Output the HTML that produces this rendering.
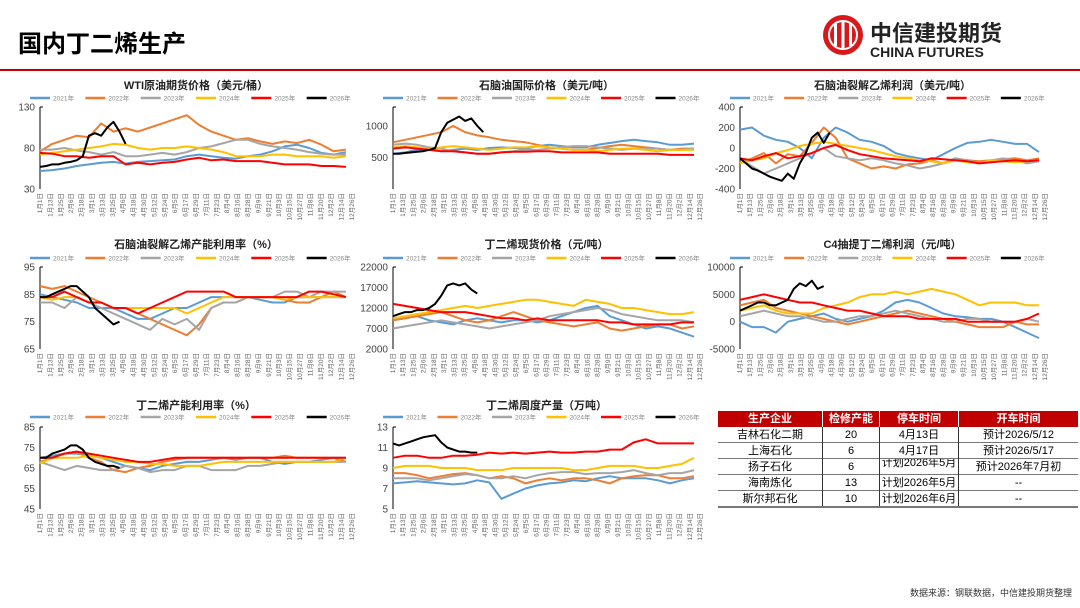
<!DOCTYPE html>
<html><head><meta charset="utf-8">
<style>
body{margin:0;width:1080px;height:608px;background:#fff;overflow:hidden;font-family:"Liberation Sans","Noto Sans CJK SC",sans-serif;}
#root{position:relative;width:1080px;height:608px;}
table{border-collapse:collapse;table-layout:fixed;}
td{padding:0;line-height:14px;height:15px;white-space:nowrap;overflow:hidden;}
</style></head>
<body><div id="root">
<div style="position:absolute;left:18px;top:24px;font-size:24px;font-weight:bold;color:#000;font-family:'Liberation Sans','Noto Sans CJK SC',sans-serif;">国内丁二烯生产</div>
<div style="position:absolute;left:0;top:69px;width:1080px;height:2px;background:#c00000;"></div>
<svg style="position:absolute;left:820px;top:12px" width="260" height="48">
<circle cx="23" cy="23" r="20" fill="#d7191c"/>
<circle cx="23" cy="23" r="14" fill="none" stroke="#fff" stroke-width="2"/>
<rect x="14" y="12" width="3" height="22" fill="#fff"/><rect x="21.5" y="9" width="3" height="28" fill="#fff"/><rect x="29" y="12" width="3" height="22" fill="#fff"/>
<text x="50" y="29" font-size="22" font-weight="bold" fill="#222" font-family="Noto Sans CJK SC,sans-serif">中信建投期货</text>
<text x="50" y="45" font-size="14" font-weight="bold" fill="#222" font-family="Liberation Sans,sans-serif">CHINA FUTURES</text>
</svg>
<svg id="charts" style="position:absolute;left:0;top:0" width="1080" height="608"></svg>
<table style="position:absolute;left:718px;top:411px;width:360px;font-size:11px;font-family:'Liberation Sans','Noto Sans CJK SC',sans-serif;text-align:center;">
<tr style="background:#c00000;color:#fff;font-weight:bold;"><td style="width:104px;border-right:1px solid #fff;height:16px">生产企业</td><td style="width:56px;border-right:1px solid #fff">检修产能</td><td style="width:78px;border-right:1px solid #fff">停车时间</td><td>开车时间</td></tr>
<tr style="border-bottom:1px solid #777"><td style="border-right:1px solid #333">吉林石化二期</td><td style="border-right:1px solid #333">20</td><td style="border-right:1px solid #333">4月13日</td><td>预计2026/5/12</td></tr>
<tr style="border-bottom:1px solid #777"><td style="border-right:1px solid #333">上海石化</td><td style="border-right:1px solid #333">6</td><td style="border-right:1px solid #333">4月17日</td><td>预计2026/5/17</td></tr>
<tr style="border-bottom:1px solid #777"><td style="border-right:1px solid #333">扬子石化</td><td style="border-right:1px solid #333">6</td><td style="border-right:1px solid #333;font-size:11px;line-height:9px;vertical-align:top">计划2026年5月</td><td>预计2026年7月初</td></tr>
<tr style="border-bottom:1px solid #777"><td style="border-right:1px solid #333">海南炼化</td><td style="border-right:1px solid #333">13</td><td style="border-right:1px solid #333">计划2026年5月</td><td>--</td></tr>
<tr style="border-bottom:2px solid #777"><td style="border-right:1px solid #333">斯尔邦石化</td><td style="border-right:1px solid #333">10</td><td style="border-right:1px solid #333">计划2026年6月</td><td>--</td></tr>
</table>
<div style="position:absolute;right:8px;top:586px;font-size:9px;color:#333;">数据来源：钢联数据，中信建投期货整理</div>
</div>
<script>
const years=["2021年","2022年","2023年","2024年","2025年","2026年"];
const colors=["#5b9bd5","#ed7d31","#a5a5a5","#ffc000","#ff0000","#000000"];
const xTicks=["1月1日","1月13日","1月25日","2月6日","2月18日","3月1日","3月13日","3月25日","4月6日","4月18日","4月30日","5月12日","5月24日","6月5日","6月17日","6月29日","7月11日","7月23日","8月4日","8月16日","8月28日","9月9日","9月21日","10月3日","10月15日","10月27日","11月8日","11月20日","12月2日","12月14日","12月26日"];

const wti2021=[52,53,55,58,60,62,63,61,63,64,65,66,70,72,70,68,67,70,72,76,82,84,80,74,72,75];
const wti2022=[76,85,90,95,93,110,100,104,100,105,110,115,120,108,100,95,90,92,88,85,88,86,90,84,76,78];
const wti2023=[78,78,80,77,75,72,75,70,70,72,74,72,75,80,82,86,90,90,85,82,80,78,75,73,72,72];
const wti2024=[72,74,76,78,80,82,85,84,80,78,80,80,82,80,78,75,70,70,70,72,72,70,70,70,68,70];
const wti2025=[74,73,70,70,68,70,70,60,62,60,62,63,66,68,65,66,64,64,64,62,60,60,60,58,58,57];
const wti2026=[57,58,60,60,62,63,65,70,95,98,95,105,112,100,85];

const nap2021=[560,580,620,640,600,620,640,620,650,660,650,640,680,700,680,660,660,700,730,760,780,760,740,700,700,720];
const nap2022=[740,780,820,860,900,1000,900,850,820,780,760,740,700,660,640,620,620,650,680,700,680,660,640,620,640,640];
const nap2023=[700,720,700,660,640,600,580,560,560,580,600,620,620,640,660,680,680,660,640,620,640,640,640,620,620,640];
const nap2024=[660,680,660,640,660,680,660,640,620,640,660,660,680,660,640,620,620,600,620,640,640,620,600,620,620,620];
const nap2025=[640,660,640,620,600,600,580,560,560,580,590,590,600,600,580,580,580,580,560,560,560,560,560,540,540,540];
const nap2026=[560,560,570,580,590,600,620,650,900,1050,1100,1150,1080,1120,1000,900];

const spr2021=[180,200,120,80,60,0,-100,100,200,150,80,60,20,-50,-80,-100,-120,-60,0,50,60,80,60,40,40,-40];
const spr2022=[-150,-100,-50,-150,-60,-80,50,200,100,-100,-150,-200,-180,-200,-160,-150,-120,-150,-100,-120,-130,-120,-110,-100,-120,-100];
const spr2023=[-100,-180,-250,-200,-150,-100,-50,0,-80,-100,-120,-100,-120,-150,-170,-200,-180,-150,-100,-120,-150,-120,-100,-120,-150,-130];
const spr2024=[-150,-120,-100,-50,-20,20,40,60,40,20,0,-20,-50,-80,-100,-120,-130,-150,-120,-140,-150,-120,-130,-140,-130,-120];
const spr2025=[-100,-120,-80,-50,-100,-80,-50,0,30,-20,-60,-80,-100,-110,-120,-130,-100,-110,-120,-130,-150,-140,-130,-120,-130,-120];
const spr2026=[-100,-150,-200,-220,-250,-280,-300,-320,-250,-300,-150,-50,100,150,50,150];

const eth2021=[85,84,83,82,80,80,80,78,76,76,78,80,80,82,84,84,84,84,83,82,82,84,84,84,84,84];
const eth2022=[88,87,88,86,84,82,80,80,78,76,74,72,70,74,80,82,82,84,84,84,83,82,82,84,86,84];
const eth2023=[82,82,80,84,82,80,78,76,74,72,76,74,76,72,80,82,82,84,84,84,86,86,84,86,86,86];
const eth2024=[84,83,84,84,82,82,80,80,80,80,80,80,78,80,82,84,84,84,84,84,83,84,84,84,84,84];
const eth2025=[84,84,86,84,82,82,80,80,78,80,82,84,86,86,86,86,84,84,84,84,84,84,86,86,85,84];
const eth2026=[84,84,85,86,87,88,88,86,84,80,78,76,74,75];

const bd2021=[9000,9500,10000,9000,8500,8000,9000,9500,9000,8500,9000,9000,8500,9000,10000,11000,12000,12500,10000,9000,8000,7000,7500,7000,6000,5000];
const bd2022=[9000,9500,10000,10500,11000,10000,9000,8500,9000,10000,11000,10000,9000,8500,8000,7500,8000,8500,7000,6500,7000,7500,8000,8000,7000,7500];
const bd2023=[7000,7500,8000,8500,9000,8500,8000,7500,7000,7500,8000,8500,9000,10000,10500,11000,11500,12000,11500,10500,10000,9500,9000,9000,9000,8500];
const bd2024=[9500,10000,10500,11000,11500,12000,12500,12000,12500,13000,13500,14000,14000,13500,13000,12500,14000,13500,13000,12000,12000,11500,11000,10500,10500,11000];
const bd2025=[13000,12500,12000,11500,11000,11000,11000,10500,10000,9500,9500,9000,9500,9000,9000,9000,9000,9000,8500,8500,8000,8000,8000,8000,8500,8500];
const bd2026=[10000,10500,11000,11000,11500,11500,12000,13000,15000,17500,18000,17500,18000,16500,15500];

const c42021=[0,-1000,-1000,-2000,0,500,1000,1500,500,0,500,1000,2000,3500,4000,3500,2500,1500,1000,800,500,500,0,-1000,-2000,-3000];
const c42022=[3000,3500,4000,2500,2000,1500,1000,500,0,-500,0,500,1000,1500,2000,1500,1000,500,0,-500,-1000,-1000,-1000,0,-500,-500];
const c42023=[1000,1500,2000,1500,1000,1000,500,0,0,500,1000,1000,1500,2000,1500,1000,500,0,0,500,500,0,0,0,500,0];
const c42024=[2000,2500,3000,2000,1500,1500,1500,2500,3000,3500,4500,5000,5000,5500,5000,5500,6000,5500,5000,4000,3000,3500,3500,3500,3000,3000];
const c42025=[4000,4500,5000,4500,4000,3500,3500,3000,2500,2000,2000,1500,1000,1000,1000,500,500,500,500,0,0,0,0,0,500,1500];
const c42026=[2000,2500,3000,3500,3500,3000,3000,3500,4000,6000,7000,6500,7500,6000,6500];

const bdu2021=[70,71,72,72,71,70,68,66,65,64,66,67,68,68,69,70,69,70,70,68,67,68,68,69,70,70];
const bdu2022=[68,70,72,73,70,68,64,63,65,66,68,69,70,70,70,70,70,70,70,70,71,70,70,70,70,68];
const bdu2023=[68,66,64,66,65,64,64,66,65,63,64,64,66,66,64,64,64,66,66,67,68,68,68,68,68,68];
const bdu2024=[67,70,70,70,71,70,69,68,68,67,67,66,66,66,67,68,68,68,68,68,68,68,68,68,68,70];
const bdu2025=[70,70,72,73,72,71,70,69,68,68,69,70,70,70,70,70,70,70,70,70,70,70,70,70,70,70];
const bdu2026=[70,70,72,73,74,76,76,74,70,68,67,66,66,65];

const prd2021=[7.5,7.6,7.7,7.6,7.5,7.4,7.5,7.8,7.6,6.0,6.5,7.0,7.3,7.5,7.6,7.8,7.7,8.0,8.2,8.0,8.0,8.0,7.8,7.5,7.8,8.0];
const prd2022=[8.5,8.5,8.3,8.0,8.2,8.4,8.5,8.3,8.0,8.2,8.0,7.5,7.8,8.0,7.8,8.0,8.0,7.8,7.5,8.0,8.2,8.3,8.3,8.0,8.0,8.2];
const prd2023=[8.0,8.0,8.0,7.8,8.0,8.2,8.4,8.3,8.0,8.0,8.2,8.0,8.3,8.5,8.6,8.6,8.4,8.5,8.5,8.6,8.8,8.5,8.3,8.5,8.5,8.8];
const prd2024=[9.0,9.2,9.2,9.2,9.0,9.0,9.0,8.8,8.8,8.8,9.0,9.0,9.0,9.0,9.0,8.8,8.8,9.0,9.2,9.2,9.2,9.0,9.0,9.2,9.4,10.0];
const prd2025=[10.0,10.2,10.2,10.0,10.0,10.2,10.2,10.3,10.5,10.4,10.5,10.4,10.5,10.6,10.5,10.5,10.6,10.6,10.8,10.8,11.5,11.8,11.4,11.4,11.4,11.4];
const prd2026=[11.4,11.2,11.4,11.6,11.8,12.0,12.1,12.2,11.5,11.0,10.8,10.6,10.6,10.5,10.5];

const wtiTicks=[30,80,130], napTicks=[500,1000], sprTicks=[-400,-200,0,200,400], ethTicks=[65,75,85,95], bdTicks=[2000,7000,12000,17000,22000], c4Ticks=[-5000,0,5000,10000], bduTicks=[45,55,65,75,85], prdTicks=[5,7,9,11,13];

const NS="http://www.w3.org/2000/svg";
const svg=document.getElementById('charts');
function mk(tag,attrs,parent){const e=document.createElementNS(NS,tag);for(const k in attrs)e.setAttribute(k,attrs[k]);(parent||svg).appendChild(e);return e;}

function chart(cfg){
  const g=mk('g',{});
  
  
  const {x0,x1,y0,y1,min,max}=cfg;
  const xs=w=>x0+(x1-x0)*w/51;
  const ys=v=>y1-(y1-y0)*(v-min)/(max-min);
  const t=mk('text',{x:(x0+x1)/2,y:cfg.ty,'text-anchor':'middle','font-size':11,'font-weight':'bold',fill:'#222'},g);
  t.textContent=cfg.title;
  
  
  const lw=(x1-x0+20)/6;
  years.forEach((y,i)=>{
    const lx=x0-10+i*lw;
    const le=mk('g',{},g);
    
    
    mk('line',{x1:lx,x2:lx+20,y1:cfg.ly,y2:cfg.ly,stroke:colors[i],'stroke-width':2.5},le);
    const tt=mk('text',{x:lx+23,y:cfg.ly+2.5,'font-size':6.5,fill:'#888'},le);tt.textContent=y;
  });
  cfg.ticks.forEach(v=>{
    const tt=mk('text',{x:x0-5,y:ys(v)+3.5,'text-anchor':'end','font-size':10,fill:'#444'},g);
    tt.textContent=v;
    
    
  });
  mk('line',{x1:x0,x2:x0,y1:y0,y2:y1,stroke:'#000','stroke-width':1},g);
  mk('line',{x1:x0,x2:x0+3,y1:y0,y2:y0,stroke:'#000','stroke-width':1},g);
  xTicks.forEach((lab,i)=>{
    const px=x0+(x1-x0)*i/30;
    const tt=mk('text',{x:0,y:0,'font-size':6.5,fill:'#666','text-anchor':'end',transform:`translate(${px+2},${y1+4}) rotate(-90)`},g);
    tt.textContent=lab;
  });
  cfg.series.forEach((arr,si)=>{
    const step=si===5?1:2;
    const pts=arr.map((v,i)=>xs(i*step).toFixed(1)+','+ys(v).toFixed(1)).join(' ');
    const p=mk('polyline',{points:pts,fill:'none',stroke:colors[si],'stroke-width':2,'stroke-linejoin':'round'},g);
    
    
  });
}
const cols=[[40,352],[393,700],[740,1045]];
const rows=[{ty:89,ly:98,y0:107,y1:189},{ty:248,ly:258,y0:267,y1:349},{ty:409,ly:417,y0:427,y1:509}];
const defs=[
 {name:'wti-chart',title:'WTI原油期货价格（美元/桶）',min:30,max:130,ticks:wtiTicks,series:[wti2021,wti2022,wti2023,wti2024,wti2025,wti2026]},
 {name:'naphtha-chart',title:'石脑油国际价格（美元/吨）',min:0,max:1300,ticks:napTicks,series:[nap2021,nap2022,nap2023,nap2024,nap2025,nap2026]},
 {name:'naphtha-crack-chart',title:'石脑油裂解乙烯利润（美元/吨）',min:-400,max:400,ticks:sprTicks,series:[spr2021,spr2022,spr2023,spr2024,spr2025,spr2026]},
 {name:'ethylene-util-chart',title:'石脑油裂解乙烯产能利用率（%）',min:65,max:95,ticks:ethTicks,series:[eth2021,eth2022,eth2023,eth2024,eth2025,eth2026]},
 {name:'butadiene-price-chart',title:'丁二烯现货价格（元/吨）',min:2000,max:22000,ticks:bdTicks,series:[bd2021,bd2022,bd2023,bd2024,bd2025,bd2026]},
 {name:'c4-profit-chart',title:'C4抽提丁二烯利润（元/吨）',min:-5000,max:10000,ticks:c4Ticks,series:[c42021,c42022,c42023,c42024,c42025,c42026]},
 {name:'butadiene-util-chart',title:'丁二烯产能利用率（%）',min:45,max:85,ticks:bduTicks,series:[bdu2021,bdu2022,bdu2023,bdu2024,bdu2025,bdu2026]},
 {name:'butadiene-output-chart',title:'丁二烯周度产量（万吨）',min:5,max:13,ticks:prdTicks,series:[prd2021,prd2022,prd2023,prd2024,prd2025,prd2026]}
];
defs.forEach((d,i)=>{const r=rows[Math.floor(i/3)],c=cols[i%3];chart(Object.assign({x0:c[0],x1:c[1]},r,d));});
</script>
</body></html>
